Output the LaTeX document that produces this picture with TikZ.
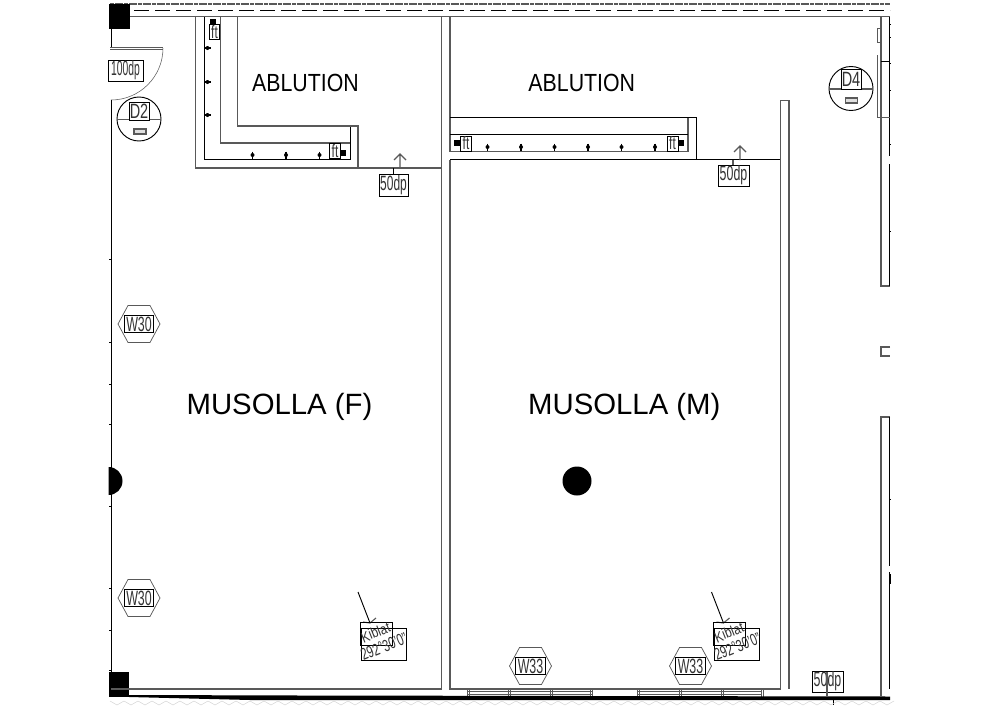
\documentclass[tikz,border=0pt]{standalone}
\usepackage{graphicx}
\usepackage{fontspec}
\setmainfont{Liberation Sans}
\newcommand{\cadlabel}[3]{\fontsize{#1}{#1}\selectfont\scalebox{#2}[1]{#3}}
\definecolor{wallgray}{gray}{0.35}
\definecolor{inkgray}{gray}{0.2}
\tikzset{
  wall/.style={draw=wallgray,line width=0.85pt},
  fine/.style={draw=black,line width=0.7pt},
  hair/.style={draw=wallgray,line width=0.4pt},
  tagbox/.style={draw=black,line width=0.7pt,fill=white,inner sep=0pt,outer sep=0pt,text=inkgray,anchor=center},
  roomname/.style={inner sep=0pt,text=black},
  tagtext/.style={inner sep=0pt,text=inkgray},
  blk/.style={fill=black,draw=none},
}
\begin{document}
\begin{tikzpicture}[x=0.75pt,y=-0.75pt]
\useasboundingbox (0,0) rectangle (1000,707);
% top band
\draw[wallgray,line width=1.5pt,dash pattern=on 3pt off 0.5pt] (110,4) -- (890,4);
\draw[black,line width=0.6pt,dash pattern=on 11.25pt off 4.5pt] (134,10) -- (890,10);
\draw[wall] (129,16.5) -- (890,16.5);
% columns
\fill[blk] (109,4) rectangle (129.5,29);
\fill[blk] (109,672) rectangle (129,697);
% left wall
\draw[fine] (111.5,29) -- (111.5,47);
\draw[wallgray,line width=0.5pt] (110,47.5) -- (163,47.5);
\draw[wallgray,line width=0.5pt] (110,49) -- (163,49);
\draw[hair] (163,48) arc[start angle=0,end angle=90,radius=52];
\draw[fine] (111.5,100) -- (111.5,672);
\foreach \ty in {259,342,384,424,506,588,630,670} \draw[fine] (109,\ty) -- (111.5,\ty);
\fill[blk] (108.5,467) arc[start angle=-90,end angle=90,radius=14] -- cycle;
% female room
\draw[wall] (195.5,17) -- (195.5,168) -- (441.5,168);
\draw[fine] (204.5,17) -- (204.5,159.5) -- (350,159.5) -- (350,126);
\draw[wall] (220.5,17) -- (220.5,143) -- (350,143);
\draw[wall] (237.5,17) -- (237.5,126) -- (358,126) -- (358,168);
\draw[wall] (441.5,17) -- (441.5,689) -- (111,689);
% male room
\draw[wall] (450,17) -- (450,117.5);
\draw[fine] (450,117.5) -- (696.5,117.5) -- (696.5,160);
\draw[wall] (688,117.5) -- (688,151.5) -- (450,151.5) -- (450,117.5);
\draw[fine] (450,134.5) -- (688,134.5);
\draw[fine] (450,159.5) -- (780.5,159.5);
\draw[wall] (450,159.5) -- (450,689) -- (780.5,689);
\draw[wall] (780.5,689) -- (780.5,100.5) -- (789,100.5) -- (789,689);
% floor drains
\foreach \bx/\by in {210/19,340/150,453.5/140,678/140} \fill[blk] (\bx,\by) rectangle +(6,5.5);
% fixtures
\foreach \mx in {207.5} \foreach \my in {48,82,115} {\draw[black,line width=0.9pt] (\mx-3.5,\my) -- (\mx+3.5,\my); \fill (\mx,\my) circle (2);}
\foreach \mx in {252.5,286,319.5,487.5,521,554.5,588,621.5,655} {\pgfmathsetmacro{\my}{\mx<400?155:147}
  \draw[black,line width=0.9pt] (\mx,\my-3.5) -- (\mx,\my+4); \fill (\mx,\my) circle (2);}
% tags for ablution
\node[tagbox,minimum width=7.9pt,minimum height=11.6pt] (ftA) at (214.5,32) {\cadlabel{13.5}{0.66}{ft}};
\node[tagbox,minimum width=7.9pt,minimum height=11.6pt] (ftB) at (335,151) {\cadlabel{13.5}{0.66}{ft}};
\node[tagbox,minimum width=8.25pt,minimum height=11.25pt] (ftC) at (466,143.5) {\cadlabel{13.5}{0.66}{ft}};
\node[tagbox,minimum width=8.25pt,minimum height=11.25pt] (ftD) at (672.5,143.5) {\cadlabel{13.5}{0.66}{ft}};
% room labels
\node[roomname] (ablF) at (305.5,83) {\fontsize{18.6}{20}\selectfont\scalebox{0.86}[1]{ABLUTION}};
\node[roomname] (ablM) at (581.8,83) {\fontsize{18.6}{20}\selectfont\scalebox{0.86}[1]{ABLUTION}};
\node[roomname] (musF) at (279.5,407) {\fontsize{22}{24}\selectfont MUSOLLA (F)};
\node[roomname] (musM) at (624.3,407) {\fontsize{22}{24}\selectfont MUSOLLA (M)};
% column dot
\fill[blk] (577,481) circle (14.5);
% door tag
\node[tagbox,minimum width=26.25pt,minimum height=15.75pt] (dp100) at (125.5,70.5) {\cadlabel{15.5}{0.5}{100dp}};
% D2
\draw[fine] (139,119) circle (22);
\draw[wall] (117,119.5) -- (161,119.5);
\node[tagbox,minimum width=15pt,minimum height=13.5pt] (d2) at (139,111) {\cadlabel{15.5}{0.7}{D2}};
\draw[wall,fill=gray!25] (134,129) rectangle (146,134);
% D4
\draw[fine] (851,88.5) circle (22);
\draw[wall] (829,89) -- (873,89);
\node[tagbox,minimum width=15pt,minimum height=15pt] (d4) at (851,79) {\cadlabel{15.5}{0.7}{D4}};
\draw[wall,fill=gray!25] (845.5,98) rectangle (857.5,103);
% 50dp tags
\coordinate (upF) at (400,154);
\coordinate (baseF) at (400,168);
\draw[wall] (baseF) -- (upF) (394,160) -- (upF) -- (406,160);
\draw[fine] (393,168) -- (393,175);
\node[tagbox,minimum width=21.75pt,minimum height=16.5pt] (dpF) at (393.5,185) {\cadlabel{15.5}{0.58}{50dp}};
\coordinate (upM) at (740,146);
\coordinate (baseM) at (740,160);
\draw[wall] (baseM) -- (upM) (734,152) -- (upM) -- (746,152);
\draw[wall] (733,160) -- (733,166);
\node[tagbox,minimum width=23.25pt,minimum height=15.75pt] (dpM) at (733.5,175.5) {\cadlabel{15.5}{0.6}{50dp}};
\node[tagbox,minimum width=23.25pt,minimum height=15.75pt] (dpS) at (827.5,681.5) {\cadlabel{15.5}{0.6}{50dp}};
\draw[wall] (827,672) -- (827,696);
\draw[fine] (833.5,700) -- (833.5,705);
% window hexagons
\foreach \hn/\hx/\hy/\hlabel in {wa/139/324/W30,wb/139/598/W30,wc/530.5/666/W33,wd/690.5/666/W33} {
  \draw[hair,line width=0.55pt] (\hx-21,\hy) -- (\hx-11,\hy-18.5) -- (\hx+11,\hy-18.5) -- (\hx+21,\hy) -- (\hx+11,\hy+18.5) -- (\hx-11,\hy+18.5) -- cycle;
  \node[tagbox,fill=none,line width=0.9pt,minimum width=22pt,minimum height=13pt] (\hn) at (\hx,\hy) {\cadlabel{15.5}{0.6}{\hlabel}};
}
% kiblat
\foreach \kx/\kn in {0/ka,353.5/kb} {
  \coordinate (\kn from) at (358+\kx,592);
  \coordinate (\kn to) at (370+\kx,623);
  \draw[fine] (\kn from) -- (\kn to);
  \draw[wall] (363+\kx,622) -- (\kn to) -- (376+\kx,618);
  \draw[fine] (360+\kx,622) rectangle (392+\kx,645);
  \draw[fine] (361+\kx,628.5) rectangle (406+\kx,660);
  \node[tagtext,rotate=22] (\kn a) at (375.5+\kx,632.5) {\cadlabel{11}{0.82}{Kiblat}};
  \node[tagtext,rotate=22] (\kn b) at (384+\kx,646.5) {\cadlabel{12.5}{0.68}{292°30'0"}};
}
% windows
\foreach \wa/\wb in {468/592,638/762} {
  \draw[wall,line width=0.55pt] (\wa,691) -- (\wb,691) (\wa,694) -- (\wb,694);
}
\foreach \wv in {467,508,550,590,637,679,721,761} {
  \draw[wall,line width=0.55pt] (\wv,689) -- (\wv,697) (\wv+2.5,689) -- (\wv+2.5,697);
}
% base beam
\fill[blk] (129,695) -- (300,695.5) -- (890,696.5) -- (890,700) -- (250,700) -- (129,697) -- cycle;
\foreach \zx in {110,124,...,880} \draw[gray!35,line width=0.35pt] (\zx,701) -- (\zx+7,705) -- (\zx+14,701);
% right side
\draw[wall] (881,17) -- (881,286) -- (890,286);
\draw[fine] (889.3,17) -- (889.3,156);
\draw[fine] (889.3,164) -- (889.3,286);
\draw[wall] (890,347) -- (881,347) -- (881,356) -- (890,356);
\draw[wall] (890,417) -- (881,417) -- (881,697);
\draw[fine] (889.3,417) -- (889.3,566);
\draw[fine] (889.3,572) -- (889.3,689);
\fill[blk] (889,574) rectangle (891,584);
\draw[hair] (877,28) rectangle (881,42);
\draw[wall,line width=0.5pt] (877,55) -- (877,117) -- (890,117);
\draw[fine] (881,61) -- (890,61);
\foreach \ty in {24,37,63,90,144,231,499} \draw[fine] (889,\ty) -- (891,\ty);
\end{tikzpicture}
\end{document}
